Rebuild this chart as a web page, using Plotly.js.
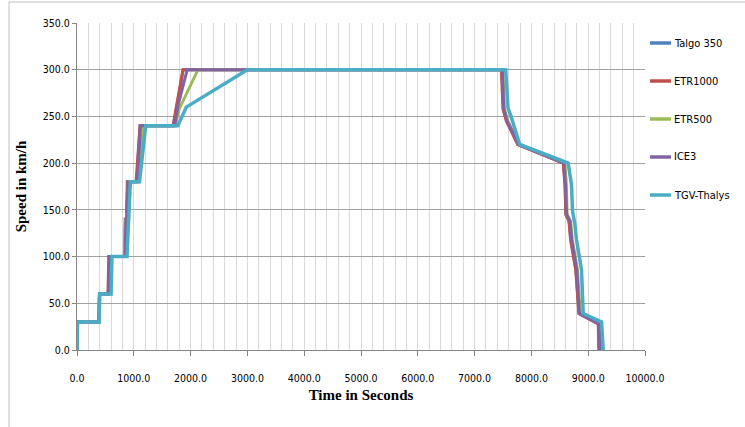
<!DOCTYPE html>
<html><head><meta charset="utf-8">
<script src="https://cdn.plot.ly/plotly-3.0.1.min.js"></script>
<style>body{margin:0;background:#fff}#c{width:745px;height:427px}</style>
</head><body><div id="c"></div>
<script>
// ---- data ----
const seriesNames = ["Talgo 350", "ETR1000", "ETR500", "ICE3", "TGV-Thalys"];
const seriesColors = ["#4F81BD", "#C0504D", "#9BBB59", "#8064A2", "#4BACC6"];

const talgoT = [0,10,385,395,550,565,840,850,870,885,1050,1110,1700,1760,1870,7480,7505,7565,7765,8565,8595,8610,8665,8695,8785,8840,9180,9192];
const talgoV = [0,30,30,60,60,100,100,140,140,180,180,240,240,262,300,300,258,245,220,200,177,145,138,118,86,39,28,0];

const etr1000T = [0,10,385,395,545,560,840,855,870,895,1040,1110,1690,1750,1865,7471,7500,7560,7760,8560,8590,8606,8660,8690,8780,8835,9176,9188];
const etr1000V = [0,30,30,60,60,100,100,140,140,180,180,240,240,262,300,300,258,245,220,200,177,145,138,118,86,39,28,0];

const etr500T = [0,10,390,400,570,590,830,850,880,905,1080,1170,1730,1800,2130,7495,7525,7585,7785,8590,8615,8630,8690,8720,8810,8860,9210,9220];
const etr500V = [0,30,30,60,60,100,100,140,140,180,180,240,240,258,300,300,258,245,220,200,177,145,138,118,86,39,28,0];

const ice3T = [0,10,385,395,560,575,845,860,880,900,1060,1120,1720,1780,1940,7488,7515,7575,7775,8575,8600,8620,8680,8710,8800,8845,9195,9205];
const ice3V = [0,30,30,60,60,100,100,140,140,180,180,240,240,262,300,300,258,245,220,200,177,145,138,118,86,39,28,0];

const tgvT = [0,10,390,400,600,615,880,905,920,940,1100,1210,1775,1925,3000,7547,7588,7647,7794,8647,8706,8724,8765,8794,8882,8912,9235,9265];
const tgvV = [0,30,30,60,60,100,100,140,140,180,180,240,240,260,300,300,259,249,220,200,177,149,135,118,86,39,30,0];

const seriesT = [talgoT, etr1000T, etr500T, ice3T, tgvT];
const seriesV = [talgoV, etr1000V, etr500V, ice3V, tgvV];

const xTicks = [0,1000,2000,3000,4000,5000,6000,7000,8000,9000,10000];
const yTicks = [0,50,100,150,200,250,300,350];
const xTitle = "Time in Seconds";
const yTitle = "Speed in km/h";

// ---- layout helpers ----
const W = 745, H = 427, L = 77, R = 100, T = 23, B = 77;
const pw = W - L - R, ph = H - T - B;
const px2x = p => (p - L) / pw;
const py2y = p => (H - B - p) / ph;

const traces = seriesNames.map((n, i) => ({
  type: "scatter", mode: "lines", name: n,
  x: seriesT[i], y: seriesV[i],
  line: {color: seriesColors[i], width: i === 4 ? 3.5 : 3},
  showlegend: false, hoverinfo: "skip"
}));

const shapes = [{
  type: "rect", xref: "paper", yref: "paper",
  x0: px2x(9), x1: px2x(900), y0: py2y(600), y1: py2y(2),
  line: {color: "#bfbfbf", width: 1}, fillcolor: "rgba(0,0,0,0)", layer: "below"
}];
const annotations = [];
const legY = [43, 81, 119, 157, 195];
const legFont = {family: "Liberation Sans Narrow, DejaVu Sans Condensed, sans-serif", size: 11, color: "#000"};
seriesNames.forEach((n, i) => {
  shapes.push({type: "line", xref: "paper", yref: "paper",
    x0: px2x(650), x1: px2x(671), y0: py2y(legY[i]), y1: py2y(legY[i]),
    line: {color: seriesColors[i], width: 3.5}});
  annotations.push({xref: "paper", yref: "paper", x: px2x(672), y: py2y(legY[i]),
    xanchor: "left", yanchor: "middle", showarrow: false, text: n, font: legFont});
});

const tickFont = {family: "Liberation Sans Narrow, DejaVu Sans Condensed, sans-serif", size: 10.5, color: "#000"};
const titleFont = {family: "Liberation Serif, DejaVu Serif, serif", size: 15, color: "#000", weight: "bold"};

const layout = {
  width: W, height: H,
  margin: {l: L, r: R, t: T, b: B},
  paper_bgcolor: "#fff", plot_bgcolor: "#fff",
  showlegend: false,
  xaxis: {
    range: [0, 10000], tickvals: xTicks, tickformat: ".1f",
    ticks: "outside", ticklen: 5, tickcolor: "#868686",
    ticklabelstandoff: 13,
    showline: true, linecolor: "#868686", linewidth: 1,
    showgrid: true, gridcolor: "#d9d9d9", gridwidth: 1,
    minor: {dtick: 200, showgrid: true, gridcolor: "#d9d9d9", gridwidth: 1},
    zeroline: false, tickfont: tickFont,
    title: {text: xTitle, font: titleFont, standoff: 6}
  },
  yaxis: {
    range: [0, 350], tickvals: yTicks, tickformat: ".1f",
    ticks: "outside", ticklen: 4, tickcolor: "#868686",
    showline: true, linecolor: "#868686", linewidth: 1,
    showgrid: true, gridcolor: "#a0a0a0", gridwidth: 1,
    zeroline: false, tickfont: tickFont,
    title: {text: yTitle, font: titleFont, standoff: 12}
  },
  shapes: shapes, annotations: annotations
};

Plotly.newPlot("c", traces, layout, {staticPlot: true, displayModeBar: false});
</script>
</body></html>
